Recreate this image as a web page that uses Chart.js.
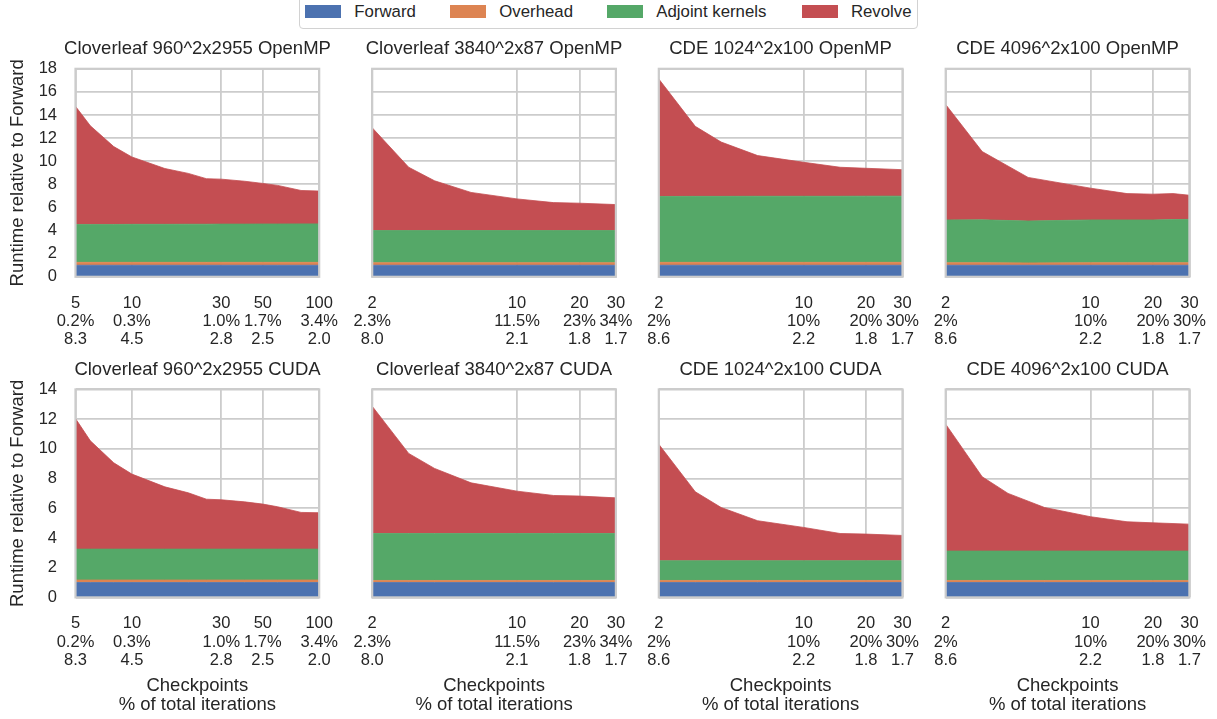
<!DOCTYPE html>
<html><head><meta charset="utf-8">
<script src="https://cdn.jsdelivr.net/npm/chart.js@4/dist/chart.umd.min.js"></script>
<style>
html,body{margin:0;padding:0;background:#fff;width:1217px;height:719px;overflow:hidden;position:relative;}
canvas{position:absolute;}
.lgbox{position:absolute;left:299px;top:-4px;width:619px;height:33px;border:1.3px solid #d2d2d2;border-radius:4px;background:#fff;box-sizing:border-box;}
.sw{position:absolute;top:5px;width:36px;height:13.3px;}
.lt{position:absolute;top:4px;font-family:'Liberation Sans',Arial,sans-serif;font-size:16.8px;line-height:16.8px;color:#262626;white-space:nowrap;}
</style>
</head><body>
<script>
// ---------- data ----------
const seriesNames = ['Forward', 'Overhead', 'Adjoint kernels', 'Revolve'];
const titles = ['Cloverleaf 960^2x2955 OpenMP', 'Cloverleaf 3840^2x87 OpenMP', 'CDE 1024^2x100 OpenMP', 'CDE 4096^2x100 OpenMP',
                'Cloverleaf 960^2x2955 CUDA', 'Cloverleaf 3840^2x87 CUDA', 'CDE 1024^2x100 CUDA', 'CDE 4096^2x100 CUDA'];

// checkpoint counts (x values)
const xCL960 = [5, 6, 8, 10, 15, 20, 25, 30, 40, 50, 60, 80, 100];
const xSmall = [2, 3, 4, 6, 10, 15, 20, 30];
const xCDE4096omp = [2, 3, 5, 10, 15, 20, 25, 30];

// tick values and 3-line tick labels
const ticksCL960 = [5, 10, 30, 50, 100];
const labelsCL960 = [['5', '0.2%', '8.3'], ['10', '0.3%', '4.5'], ['30', '1.0%', '2.8'], ['50', '1.7%', '2.5'], ['100', '3.4%', '2.0']];
const ticksSmall = [2, 10, 20, 30];
const labelsCL3840 = [['2', '2.3%', '8.0'], ['10', '11.5%', '2.1'], ['20', '23%', '1.8'], ['30', '34%', '1.7']];
const labelsCDE = [['2', '2%', '8.6'], ['10', '10%', '2.2'], ['20', '20%', '1.8'], ['30', '30%', '1.7']];
const yTicksTop = 18;
const yTicksBottom = 14;

// Panel 1: Cloverleaf 960^2x2955 OpenMP
const fwd1 = [1, 1, 1, 1, 1, 1, 1, 1, 1, 1, 1, 1, 1];
const ovh1 = [0.25, 0.25, 0.25, 0.25, 0.25, 0.25, 0.25, 0.25, 0.25, 0.25, 0.25, 0.25, 0.25];
const adj1 = [3.28, 3.28, 3.28, 3.29, 3.29, 3.30, 3.30, 3.31, 3.31, 3.32, 3.32, 3.33, 3.33];
const rev1 = [10.22, 8.54, 6.74, 5.83, 4.83, 4.40, 3.94, 3.89, 3.71, 3.51, 3.34, 2.89, 2.84];
// Panel 2: Cloverleaf 3840^2x87 OpenMP
const fwd2 = [1, 1, 1, 1, 1, 1, 1, 1];
const ovh2 = [0.22, 0.22, 0.22, 0.22, 0.22, 0.22, 0.22, 0.22];
const adj2 = [2.78, 2.78, 2.78, 2.78, 2.78, 2.78, 2.78, 2.78];
const rev2 = [8.90, 5.48, 4.31, 3.30, 2.74, 2.42, 2.37, 2.25];
// Panel 3: CDE 1024^2x100 OpenMP
const fwd3 = [1, 1, 1, 1, 1, 1, 1, 1];
const ovh3 = [0.25, 0.25, 0.25, 0.25, 0.25, 0.25, 0.25, 0.25];
const adj3 = [5.70, 5.71, 5.71, 5.72, 5.72, 5.72, 5.73, 5.73];
const rev3 = [10.17, 6.06, 4.70, 3.52, 2.94, 2.51, 2.41, 2.29];
// Panel 4: CDE 4096^2x100 OpenMP
const fwd4 = [1, 1, 1, 1, 1, 1, 1, 1];
const ovh4 = [0.22, 0.22, 0.20, 0.22, 0.22, 0.22, 0.22, 0.22];
const adj4 = [3.70, 3.71, 3.63, 3.70, 3.70, 3.70, 3.73, 3.75];
const rev4 = [9.99, 5.91, 3.77, 2.75, 2.28, 2.23, 2.25, 2.09];
// Panel 5: Cloverleaf 960^2x2955 CUDA
const fwd5 = [1, 1, 1, 1, 1, 1, 1, 1, 1, 1, 1, 1, 1];
const ovh5 = [0.17, 0.17, 0.17, 0.17, 0.17, 0.17, 0.17, 0.17, 0.17, 0.17, 0.17, 0.17, 0.17];
const adj5 = [2.08, 2.08, 2.08, 2.08, 2.08, 2.08, 2.08, 2.08, 2.08, 2.08, 2.08, 2.08, 2.08];
const rev5 = [8.79, 7.29, 5.81, 5.05, 4.19, 3.79, 3.36, 3.32, 3.18, 3.03, 2.85, 2.47, 2.45];
// Panel 6: Cloverleaf 3840^2x87 CUDA
const fwd6 = [1, 1, 1, 1, 1, 1, 1, 1];
const ovh6 = [0.14, 0.14, 0.14, 0.14, 0.14, 0.14, 0.14, 0.14];
const adj6 = [3.16, 3.16, 3.16, 3.16, 3.16, 3.16, 3.16, 3.16];
const rev6 = [8.57, 5.39, 4.38, 3.41, 2.85, 2.56, 2.52, 2.40];
// Panel 7: CDE 1024^2x100 CUDA
const fwd7 = [1, 1, 1, 1, 1, 1, 1, 1];
const ovh7 = [0.14, 0.14, 0.14, 0.14, 0.14, 0.14, 0.14, 0.14];
const adj7 = [1.33, 1.33, 1.33, 1.33, 1.33, 1.33, 1.33, 1.33];
const rev7 = [7.84, 4.64, 3.58, 2.69, 2.24, 1.83, 1.79, 1.70];
// Panel 8: CDE 4096^2x100 CUDA
const fwd8 = [1, 1, 1, 1, 1, 1, 1, 1];
const ovh8 = [0.14, 0.14, 0.14, 0.14, 0.14, 0.14, 0.14, 0.14];
const adj8 = [1.98, 1.98, 1.98, 1.98, 1.98, 1.98, 1.98, 1.98];
const rev8 = [8.54, 5.00, 3.88, 2.93, 2.31, 1.97, 1.90, 1.81];

// ---------- styling / layout ----------
const FONT = "'Liberation Sans', Arial, Helvetica, sans-serif";
const TXT = '#262626';
const GRID = '#cccccc';
const COLORS = ['#4C72B0', '#DD8452', '#55A868', '#C44E52'];

const rowsGeo = [
  {top: 30, h: 322, plotT: 68.8, xh: 75.2},
  {top: 350, h: 369, plotT: 389.4, xh: 121.6}
];
const colsGeo = [
  {left: 0, plotL: 75.5},
  {left: 330, plotL: 372.2},
  {left: 616, plotL: 658.8},
  {left: 903, plotL: 945.7}
];
const PLOT_W = 243.7;
const TITLE_PAD_TOP = 4, TITLE_PAD_BOTTOM = 8.4, TITLE_SIZE = 18.5;
const TITLE_BOX = TITLE_PAD_TOP + TITLE_SIZE * 1.2 + TITLE_PAD_BOTTOM;

const panels = [
  {x: xCL960, tv: ticksCL960, tl: labelsCL960, s: [fwd1, ovh1, adj1, rev1], yMax: yTicksTop},
  {x: xSmall, tv: ticksSmall, tl: labelsCL3840, s: [fwd2, ovh2, adj2, rev2], yMax: yTicksTop},
  {x: xSmall, tv: ticksSmall, tl: labelsCDE, s: [fwd3, ovh3, adj3, rev3], yMax: yTicksTop},
  {x: xCDE4096omp, tv: ticksSmall, tl: labelsCDE, s: [fwd4, ovh4, adj4, rev4], yMax: yTicksTop},
  {x: xCL960, tv: ticksCL960, tl: labelsCL960, s: [fwd5, ovh5, adj5, rev5], yMax: yTicksBottom},
  {x: xSmall, tv: ticksSmall, tl: labelsCL3840, s: [fwd6, ovh6, adj6, rev6], yMax: yTicksBottom},
  {x: xSmall, tv: ticksSmall, tl: labelsCDE, s: [fwd7, ovh7, adj7, rev7], yMax: yTicksBottom},
  {x: xSmall, tv: ticksSmall, tl: labelsCDE, s: [fwd8, ovh8, adj8, rev8], yMax: yTicksBottom}
];

// frame around each plot area (drawn above the areas)
const framePlugin = {
  id: 'frame',
  afterDatasetsDraw(chart) {
    const {ctx, chartArea: a} = chart;
    ctx.save();
    ctx.strokeStyle = GRID;
    ctx.lineWidth = 2.2;
    ctx.strokeRect(a.left, a.top, a.right - a.left, a.bottom - a.top);
    ctx.restore();
  }
};

panels.forEach((p, idx) => {
  const row = Math.floor(idx / 4), col = idx % 4;
  const rg = rowsGeo[row], cg = colsGeo[col];
  const yw = cg.plotL - cg.left;
  const W = Math.round(2 * yw + PLOT_W);   // symmetric so the title centres over the plot
  const yw2 = W - yw - PLOT_W;
  const c = document.createElement('canvas');
  c.width = W; c.height = rg.h;
  c.style.left = cg.left + 'px'; c.style.top = rg.top + 'px';
  c.style.width = W + 'px'; c.style.height = rg.h + 'px';
  document.body.appendChild(c);
  const padTop = rg.plotT - rg.top - TITLE_BOX;

  new Chart(c, {
    type: 'line',
    data: {
      datasets: p.s.map((arr, k) => ({
        label: seriesNames[k],
        data: p.x.map((xv, i) => ({x: xv, y: arr[i]})),
        backgroundColor: COLORS[k],
        borderColor: COLORS[k],
        borderWidth: 0.8,
        pointRadius: 0,
        pointHoverRadius: 0,
        tension: 0,
        fill: k === 0 ? 'origin' : '-1'
      }))
    },
    options: {
      responsive: false,
      animation: false,
      events: [],
      devicePixelRatio: 1,
      layout: {padding: {left: 0, right: 0, top: padTop, bottom: 0}},
      plugins: {
        legend: {display: false},
        tooltip: {enabled: false},
        title: {
          display: true, text: titles[idx], fullSize: true, color: TXT,
          font: {family: FONT, size: TITLE_SIZE, weight: 'normal', lineHeight: 1.2},
          padding: {top: TITLE_PAD_TOP, bottom: TITLE_PAD_BOTTOM}
        }
      },
      scales: {
        x: {
          type: 'logarithmic',
          min: p.x[0], max: p.x[p.x.length - 1],
          afterBuildTicks: s => { s.ticks = p.tv.map(v => ({value: v})); },
          afterFit: s => { s.height = rg.xh; s.paddingLeft = 0; s.paddingRight = 0; },
          ticks: {
            autoSkip: false, maxRotation: 0, minRotation: 0, padding: 17, color: TXT,
            font: {family: FONT, size: 16.5, lineHeight: '18.4px'},
            callback: (v, i) => p.tl[i]
          },
          grid: {color: GRID, lineWidth: 1.8, drawTicks: false},
          border: {display: false},
          title: row === 1 ? {
            display: true, text: ['Checkpoints', '% of total iterations'], color: TXT,
            font: {family: FONT, size: 18.5, lineHeight: '19.3px'}, padding: {top: 0, bottom: 4}
          } : {display: false}
        },
        y: {
          type: 'linear', stacked: true, min: 0, max: p.yMax,
          afterFit: s => { s.width = yw; s.paddingTop = 0; s.paddingBottom = 0; },
          ticks: {
            display: col === 0, stepSize: 2, padding: 18.5, color: TXT,
            font: {family: FONT, size: 16.5}
          },
          grid: {color: GRID, lineWidth: 1.8, drawTicks: false},
          border: {display: false},
          title: col === 0 ? {
            display: true, text: 'Runtime relative to Forward', color: TXT,
            font: {family: FONT, size: 18.5, lineHeight: '19.3px'}, padding: {top: 8.65, bottom: 0}
          } : {display: false}
        },
        yPad: {
          type: 'linear', position: 'right', display: true, min: 0, max: 1,
          afterFit: s => { s.width = yw2; s.paddingTop = 0; s.paddingBottom = 0; },
          ticks: {display: false},
          grid: {display: false, drawTicks: false},
          border: {display: false}
        }
      }
    },
    plugins: [framePlugin]
  });
});

// ---------- legend ----------
const legendSwatchLeft = [305, 450, 607, 801.6];
const box = document.createElement('div');
box.className = 'lgbox';
document.body.appendChild(box);
seriesNames.forEach((name, k) => {
  const sw = document.createElement('div');
  sw.className = 'sw';
  sw.style.left = legendSwatchLeft[k] + 'px';
  sw.style.background = COLORS[k];
  document.body.appendChild(sw);
  const t = document.createElement('div');
  t.className = 'lt';
  t.style.left = (legendSwatchLeft[k] + 49.3) + 'px';
  t.textContent = name;
  document.body.appendChild(t);
});
</script>
</body></html>
